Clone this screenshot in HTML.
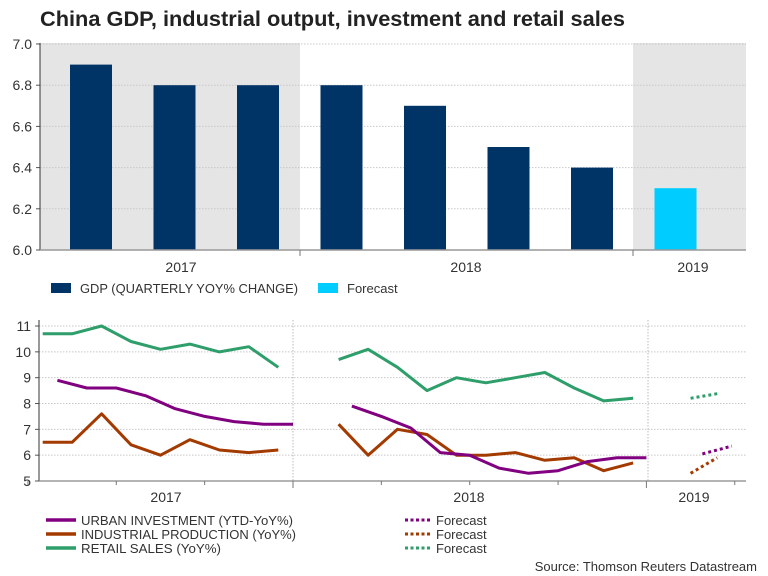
<!DOCTYPE html>
<html><head><meta charset="utf-8"><style>
body{margin:0;background:#fff;}
svg{display:block;font-family:"Liberation Sans",sans-serif;}
</style></head><body>
<svg id="c" width="768" height="576" viewBox="0 0 768 576">
<text x="40" y="26" font-size="21" font-weight="bold" fill="#222" textLength="585" lengthAdjust="spacingAndGlyphs">China GDP, industrial output, investment and retail sales</text>
<g id="topg"></g>
<g id="botg"></g>
<g font-size="13" fill="#333">
<rect x="51" y="283" width="20" height="10" fill="#003366"/>
<text x="80" y="293" textLength="218" lengthAdjust="spacingAndGlyphs">GDP (QUARTERLY YOY% CHANGE)</text>
<rect x="318" y="283" width="20" height="10" fill="#00ccff"/>
<text x="347" y="293">Forecast</text>
</g>
<g font-size="13" fill="#333">
<line x1="46" y1="520" x2="76" y2="520" stroke="#800080" stroke-width="3.5"/>
<text x="81" y="525" textLength="212" lengthAdjust="spacingAndGlyphs">URBAN INVESTMENT (YTD-YoY%)</text>
<line x1="46" y1="534" x2="76" y2="534" stroke="#a33a00" stroke-width="3.5"/>
<text x="81" y="539" textLength="215" lengthAdjust="spacingAndGlyphs">INDUSTRIAL PRODUCTION (YoY%)</text>
<line x1="46" y1="548" x2="76" y2="548" stroke="#2e9e6a" stroke-width="3.5"/>
<text x="81" y="553" textLength="140" lengthAdjust="spacingAndGlyphs">RETAIL SALES (YoY%)</text>
<line x1="405" y1="520" x2="432" y2="520" stroke="#800080" stroke-width="3" stroke-dasharray="3,2.5"/>
<text x="436" y="525">Forecast</text>
<line x1="405" y1="534" x2="432" y2="534" stroke="#a33a00" stroke-width="3" stroke-dasharray="3,2.5"/>
<text x="436" y="539">Forecast</text>
<line x1="405" y1="548" x2="432" y2="548" stroke="#2e9e6a" stroke-width="3" stroke-dasharray="3,2.5"/>
<text x="436" y="553">Forecast</text>
</g>
<text x="757" y="571" font-size="13" fill="#333" text-anchor="end">Source: Thomson Reuters Datastream</text>
</svg>
<script>
const gdpValues=[6.9,6.8,6.8,6.8,6.7,6.5,6.4,6.3];
const gdpForecast=[false,false,false,false,false,false,false,true];
const gdpTicks=[6.0,6.2,6.4,6.6,6.8,7.0];
const retail2017=[10.7,10.7,11.0,10.4,10.1,10.3,10.0,10.2,9.4];
const industrial2017=[6.5,6.5,7.6,6.4,6.0,6.6,6.2,6.1,6.2];
const urban2017=[8.9,8.6,8.6,8.3,7.8,7.5,7.3,7.2,7.2];
const retail2018=[9.7,10.1,9.4,8.5,9.0,8.8,9.0,9.2,8.6,8.1,8.2];
const industrial2018=[7.2,6.0,7.0,6.8,6.0,6.0,6.1,5.8,5.9,5.4,5.7];
const urban2018=[7.9,7.5,7.05,6.1,6.0,5.5,5.3,5.4,5.75,5.9,5.9];
const retailForecast=[8.2,8.4];
const industrialForecast=[5.3,5.9];
const urbanForecast=[6.05,6.35];
const lowTicks=[5,6,7,8,9,10,11];
const NS="http://www.w3.org/2000/svg";
function mk(p,tag,a){const e=document.createElementNS(NS,tag);for(const k in a)e.setAttribute(k,a[k]);p.appendChild(e);return e;}
const topG=document.getElementById('topg');
const tyS=v=>250-(v-6.0)*206;
const bx=i=>70+83.5*i;
let r=mk(topG,'rect',{x:40,y:43,width:260,height:207,fill:'#e5e5e5'});


r=mk(topG,'rect',{x:633,y:43,width:113,height:207,fill:'#e5e5e5'});


gdpTicks.forEach(t=>{
 const g=mk(topG,'line',{x1:40,x2:746,y1:tyS(t),y2:tyS(t),stroke:'#c8c8c8','stroke-dasharray':'1.5,1.5'});
 
 
 mk(topG,'line',{x1:36,x2:40,y1:tyS(t),y2:tyS(t),stroke:'#555'});
 const tx=mk(topG,'text',{x:32,y:tyS(t)+5,'font-size':14,fill:'#333','text-anchor':'end'});tx.textContent=t.toFixed(1);
 
 
});
gdpValues.forEach((v,i)=>{
 const b=mk(topG,'rect',{x:bx(i),y:tyS(v),width:42,height:250-tyS(v),fill:gdpForecast[i]?'#00ccff':'#003366'});
 
 
});
mk(topG,'line',{x1:40,x2:40,y1:43,y2:250,stroke:'#333'});
mk(topG,'line',{x1:40,x2:746,y1:250,y2:250,stroke:'#999','stroke-width':1.5});
[300,633].forEach(x=>mk(topG,'line',{x1:x,x2:x,y1:250,y2:256,stroke:'#777'}));
[['2017',181],['2018',466],['2019',693]].forEach(([t,x])=>{const e=mk(topG,'text',{x:x,y:272,'font-size':14,fill:'#333','text-anchor':'middle'});e.textContent=t;
 
 });
const botG=document.getElementById('botg');
const by=v=>481-(v-5)*25.83;
const mx=t=>293+(t-12)*29.45;
lowTicks.forEach(t=>{
 if(t>5){const g=mk(botG,'line',{x1:39,x2:746,y1:by(t),y2:by(t),stroke:'#c8c8c8','stroke-dasharray':'1.5,1.5'});
 
 }
 mk(botG,'line',{x1:35,x2:39,y1:by(t),y2:by(t),stroke:'#555'});
 const tx=mk(botG,'text',{x:31,y:by(t)+5,'font-size':14,fill:'#333','text-anchor':'end'});tx.textContent=t;
 
 
});
[293,648].forEach(x=>mk(botG,'line',{x1:x,x2:x,y1:320,y2:481,stroke:'#bbb','stroke-dasharray':'1.5,1.5'}));
mk(botG,'line',{x1:39,x2:39,y1:320,y2:481,stroke:'#333'});
mk(botG,'line',{x1:39,x2:746,y1:481,y2:481,stroke:'#888','stroke-width':1.3});
[3,6,9,12,15,18,21,24,27].forEach(t=>mk(botG,'line',{x1:mx(t),x2:mx(t),y1:481,y2:t%12===0?488:485,stroke:'#777'}));
[['2017',166],['2018',469],['2019',694]].forEach(([t,x])=>{const e=mk(botG,'text',{x:x,y:502,'font-size':14,fill:'#333','text-anchor':'middle'});e.textContent=t;
 
 });
function line(vals,t0,step,color,name,dash){
 const pts=vals.map((v,i)=>mx(t0+i*step).toFixed(1)+','+by(v).toFixed(1)).join(' ');
 const a={points:pts,fill:'none',stroke:color,'stroke-width':3,'stroke-linejoin':'round'};
 if(dash)a['stroke-dasharray']='3,3';
 const p=mk(botG,'polyline',a);
 
 
}
line(retail2017,3.5,1,'#2e9e6a','retail-sales-2017');
line(retail2018,13.55,1,'#2e9e6a','retail-sales-2018');
line(industrial2017,3.5,1,'#a33a00','industrial-production-2017');
line(industrial2018,13.55,1,'#a33a00','industrial-production-2018');
line(urban2017,4,1,'#800080','urban-investment-2017');
line(urban2018,14,1,'#800080','urban-investment-2018');
line(retailForecast,25.5,1,'#2e9e6a','retail-sales-forecast',true);
line(industrialForecast,25.5,0.9,'#a33a00','industrial-production-forecast',true);
line(urbanForecast,25.9,1,'#800080','urban-investment-forecast',true);
</script>
</body></html>
